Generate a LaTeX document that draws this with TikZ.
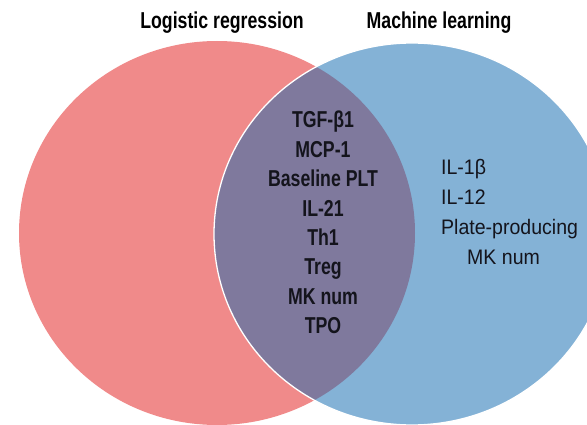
\documentclass[tikz,border=0pt]{standalone}
\usepackage{fontspec}
\setmainfont{Liberation Sans}
\newfontfamily\condfont{Liberation Sans}[FakeStretch=0.77]
\newfontfamily\regfont{Liberation Sans}[FakeStretch=0.93]
\definecolor{lrred}{RGB}{240,138,138}
\definecolor{mlblue}{RGB}{132,178,214}
\definecolor{ovpurple}{RGB}{127,121,157}
\definecolor{txtdark}{RGB}{20,20,28}
\begin{document}
\begin{tikzpicture}[x=1pt,y=-1pt,
  titletext/.style={font=\condfont\bfseries\fontsize{23}{27}\selectfont, text=black, anchor=base, inner sep=0pt},
  midtext/.style={font=\condfont\bfseries\fontsize{23}{27}\selectfont, text=txtdark, anchor=base, inner sep=0pt},
  sidetext/.style={font=\regfont\fontsize{21}{25}\selectfont, text=txtdark, anchor=base west, inner sep=0pt}]
\useasboundingbox (0,0) rectangle (587,425);
\clip (0,0) rectangle (587,425);
% circles
\fill[lrred] (217,233) ellipse [x radius=198, y radius=192];
\fill[mlblue] (412,234) ellipse [x radius=198, y radius=191];
\begin{scope}
  \clip (217,233) ellipse [x radius=198, y radius=192];
  \fill[ovpurple] (412,234) ellipse [x radius=198, y radius=191];
\end{scope}
\draw[white, line width=1.3pt] (412,234) ellipse [x radius=198, y radius=191];
% titles
\node[titletext] (tlr) at (222,29) {Logistic regression};
\node[titletext] (tml) at (439,29) {Machine learning};
% intersection
\foreach \t [count=\i] in {TGF-β1,MCP-1,Baseline PLT,IL-21,Th1,Treg,MK num,TPO}
  \node[midtext] (mid\i) at (323,{128+(\i-1)*29.4}) {\t};
% machine learning only
\node[sidetext] (ml1) at (441,175) {IL-1β};
\node[sidetext] (ml2) at (441,205) {IL-12};
\node[sidetext] (ml3) at (441,235) {Plate-producing};
\node[sidetext] (ml4) at (467,265) {MK num};
\end{tikzpicture}
\end{document}
